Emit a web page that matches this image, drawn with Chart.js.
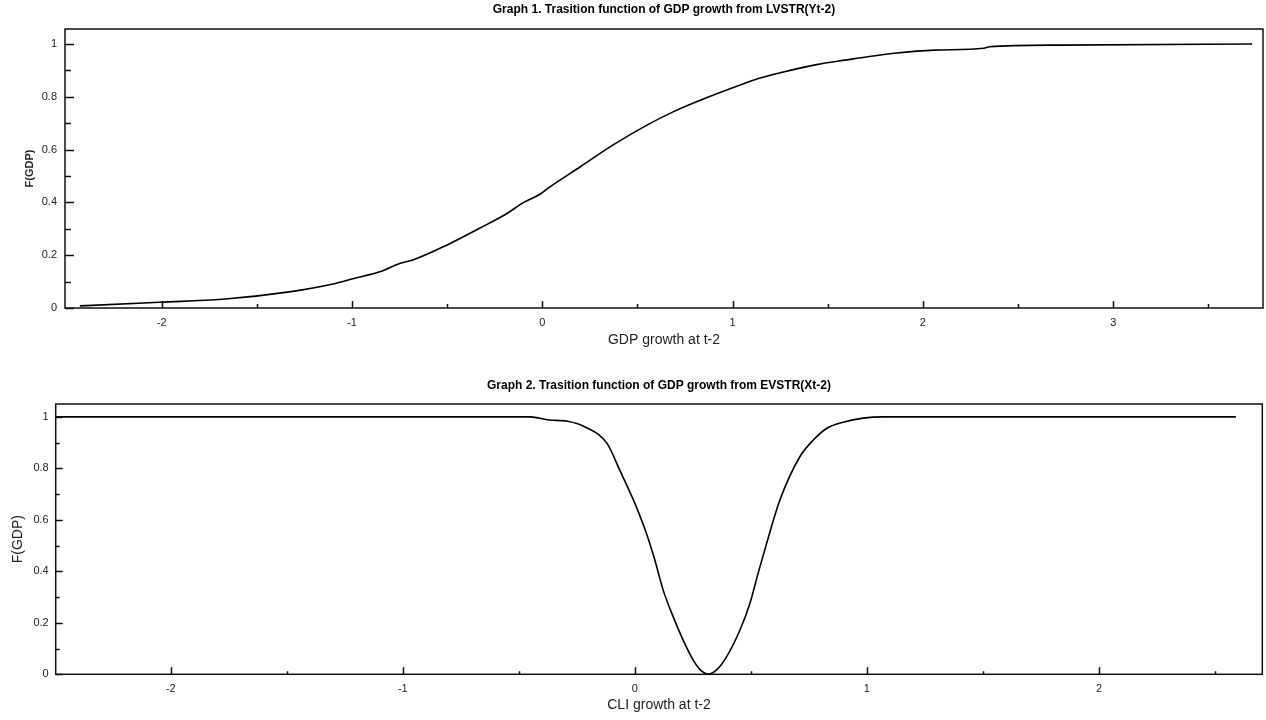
<!DOCTYPE html>
<html>
<head>
<meta charset="utf-8">
<script src="https://cdn.jsdelivr.net/npm/chart.js@4"></script>
<style>
  html,body{margin:0;padding:0;background:#fff;}
  canvas{display:block;}
</style>
</head>
<body>
<canvas id="graph1" width="1266" height="360"></canvas>
<canvas id="graph2" width="1266" height="360"></canvas>
<script>
// Graph 1 - LVSTR transition on GDP growth (t-2)
const gdpX = [-2.43,-2.01,-1.68,-1.33,-1.10,-0.99,-0.85,-0.75,-0.68,-0.50,-0.33,-0.19,-0.10,-0.01,0.04,0.20,0.37,0.55,0.69,0.90,1.04,1.14,1.25,1.44,1.60,1.71,1.85,2.06,2.32,2.35,2.72,3.73];
const gdpF = [0.008,0.022,0.033,0.061,0.091,0.112,0.138,0.169,0.182,0.239,0.302,0.356,0.399,0.432,0.459,0.535,0.617,0.693,0.744,0.807,0.845,0.870,0.891,0.922,0.940,0.952,0.965,0.977,0.984,0.990,0.996,1.0];

// Graph 2 - EVSTR transition on CLI growth (t-2)
const cliX = [-2.50,-0.45,-0.37,-0.29,-0.21,-0.12,-0.065,0.00,0.05,0.086,0.122,0.165,0.208,0.251,0.28,0.316,0.352,0.395,0.453,0.496,0.531,0.568,0.625,0.711,0.769,0.826,0.898,0.984,1.07,2.59];
const cliF = [1.0,1.0,0.988,0.983,0.959,0.897,0.793,0.664,0.547,0.444,0.327,0.224,0.133,0.056,0.019,0.001,0.017,0.068,0.172,0.276,0.392,0.509,0.677,0.845,0.91,0.955,0.979,0.995,1.0,1.0];

const xTicks1 = [-2,-1.5,-1,-0.5,0,0.5,1,1.5,2,2.5,3,3.5];
const xTicks2 = [-2,-1.5,-1,-0.5,0,0.5,1,1.5,2,2.5];
const yTicks = [0,0.1,0.2,0.3,0.4,0.5,0.6,0.7,0.8,0.9,1];

const FONT = "'Liberation Sans', Arial, sans-serif";

// box + inward tick marks
const frame = {
  id:'frame',
  afterDraw(chart, args, o){
    const {ctx, chartArea:a, scales} = chart;
    ctx.save();
    ctx.strokeStyle = '#111';
    ctx.lineWidth = 1.5;
    ctx.strokeRect(a.left, a.top, a.right-a.left, a.bottom-a.top);
    ctx.beginPath();
    for(const t of scales.x.ticks){
      const px = Math.round(scales.x.getPixelForValue(t.value))+0.5;
      const len = Number.isInteger(t.value) ? o.xMajor : o.xMinor;
      ctx.moveTo(px, a.bottom); ctx.lineTo(px, a.bottom-len);
    }
    for(const t of scales.y.ticks){
      const py = Math.round(scales.y.getPixelForValue(t.value))+0.5;
      const len = Math.round(t.value*10)%2===0 ? o.yMajor : o.yMinor;
      ctx.moveTo(a.left, py); ctx.lineTo(a.left+len, py);
    }
    ctx.stroke();
    ctx.restore();
  }
};

function makeChart(id, xs, ys, cfg){
  const pts = xs.map((x,i)=>({x, y:ys[i]}));
  return new Chart(document.getElementById(id), {
    type:'scatter',
    data:{datasets:[{data:pts, showLine:true, borderColor:'#000', borderWidth:1.6, pointRadius:0,
      cubicInterpolationMode:'monotone', fill:false}]},
    options:{
      responsive:false,
      animation:false,
      events:[],
      layout:{padding:{left:0, right:cfg.padRight, top:0, bottom:0}},
      plugins:{
        legend:{display:false},
        tooltip:{enabled:false},
        title:{display:true, text:cfg.title, fullSize:false, color:'#000',
          font:{family:FONT, size:12, weight:'bold'}, padding:cfg.titlePad},
        frame:cfg.frame
      },
      scales:{
        x:{
          type:'linear', min:cfg.xMin, max:cfg.xMax,
          grid:{display:false, drawTicks:false}, border:{display:false},
          afterBuildTicks: s => { s.ticks = cfg.xTicks.map(v=>({value:v})); },
          afterFit: s => { s.height = cfg.xHeight; },
          ticks:{autoSkip:false, maxRotation:0, padding:cfg.xTickPad, color:'#222',
            font:{family:FONT, size:11},
            callback: v => Number.isInteger(v) ? String(v) : ''},
          title:{display:true, text:cfg.xTitle, color:'#222', font:{family:FONT, size:14},
            padding:{top:0, bottom:cfg.xTitlePad}}
        },
        y:{
          type:'linear', min:0, max:cfg.yMax,
          grid:{display:false, drawTicks:false}, border:{display:false},
          afterBuildTicks: s => { s.ticks = yTicks.map(v=>({value:v})); },
          afterFit: s => { s.width = cfg.yWidth; },
          ticks:{autoSkip:false, padding:cfg.yTickPad, color:'#222',
            font:{family:FONT, size:11},
            callback: v => Math.round(v*10)%2===0 ? String(+v.toFixed(1)) : ''},
          title:{display:true, text:'F(GDP)', color:'#222', font:cfg.yTitleFont,
            padding:{top:cfg.yTitlePad, bottom:0}}
        }
      }
    },
    plugins:[frame]
  });
}

makeChart('graph1', gdpX, gdpF, {
  title:'Graph 1. Trasition function of GDP growth from LVSTR(Yt-2)',
  titlePad:{top:2, bottom:12.6},
  xTitle:'GDP growth at t-2',
  xMin:-2.508, xMax:3.787, xTicks:xTicks1,
  yMax:1.057,
  padRight:3, xHeight:52, xTickPad:8, xTitlePad:11.6,
  yWidth:65, yTickPad:8, yTitlePad:23.4,
  yTitleFont:{family:FONT, size:11, weight:'bold'},
  frame:{xMajor:7, xMinor:4, yMajor:9, yMinor:6}
});

makeChart('graph2', cliX, cliF, {
  title:'Graph 2. Trasition function of GDP growth from EVSTR(Xt-2)',
  titlePad:{top:18.8, bottom:10.8},
  xTitle:'CLI growth at t-2',
  xMin:-2.496, xMax:2.704, xTicks:xTicks2,
  yMax:1.05,
  padRight:3.7, xHeight:45.7, xTickPad:8, xTitlePad:6.6,
  yWidth:55.7, yTickPad:7, yTitlePad:9.9,
  yTitleFont:{family:FONT, size:14},
  frame:{xMajor:7, xMinor:3, yMajor:7, yMinor:4}
});
</script>
</body>
</html>
